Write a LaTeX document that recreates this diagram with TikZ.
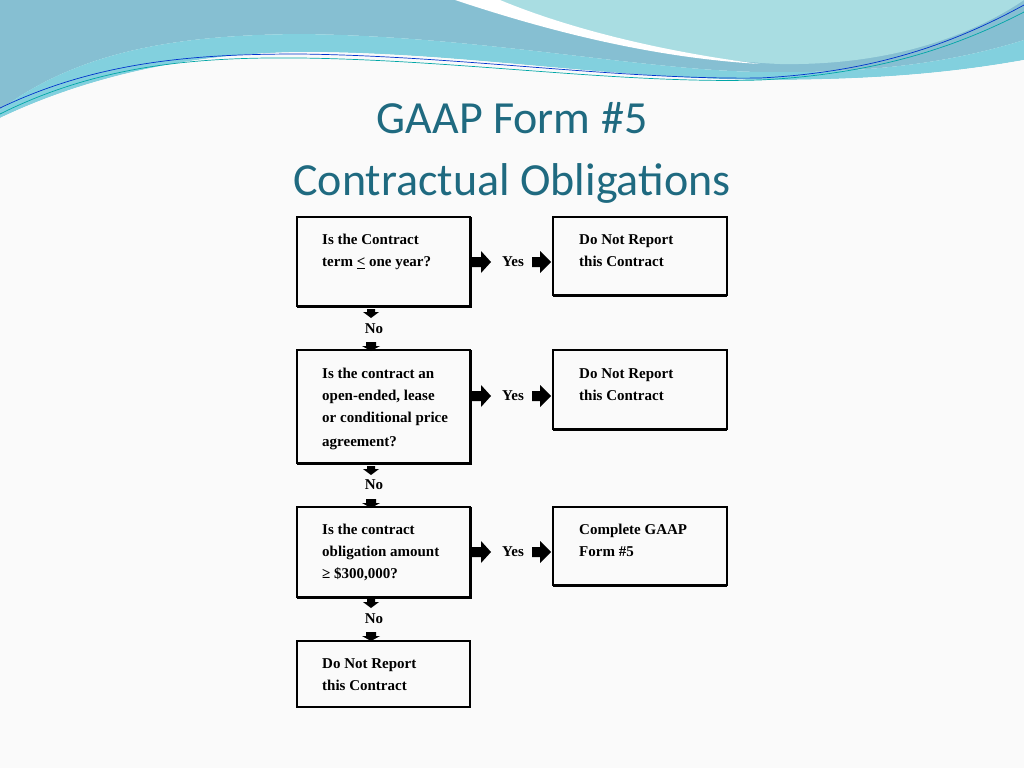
\documentclass[tikz,border=0pt]{standalone}
\usepackage{fontspec}
\setmainfont{Liberation Serif}
\newfontfamily\titlefont{Carlito}
\begin{document}
\begin{tikzpicture}[x=1pt,y=-1pt,
  box/.style={draw=black,line width=2.5pt},
  txt/.style={anchor=north west,font=\bfseries\fontsize{15}{22}\selectfont,align=left,inner sep=0pt},
  lbl/.style={font=\bfseries\fontsize{15}{18}\selectfont,inner sep=0pt},
  rarr/.style={fill=black},
]
\definecolor{wA}{HTML}{86BFD2}
\definecolor{wB}{HTML}{6CC8D8}
\definecolor{wC}{HTML}{A9DDE2}
\definecolor{tcol}{HTML}{1F6A80}
\useasboundingbox (0,0) rectangle (1024,768);
\fill[white!96!gray] (0,0) rectangle (1024,768);
% waves
\fill[wA] (0,0) -- (0,110) .. controls (80,50) and (180,35) .. (300,34) .. controls (480,36) and (640,70) .. (760,72) .. controls (880,74) and (960,60) .. (1024,40) -- (1024,0) -- cycle;
\fill[wC] (470,0) .. controls (560,30) and (680,60) .. (780,64) .. controls (900,66) and (980,30) .. (1024,0) -- cycle;
\fill[white] (455,0) .. controls (560,35) and (660,58) .. (760,64) .. controls (650,50) and (560,25) .. (500,0) -- cycle;
\fill[wB!85] (0,110) .. controls (80,50) and (180,35) .. (300,34) .. controls (480,36) and (640,70) .. (760,72) .. controls (880,74) and (960,60) .. (1024,40) -- (1024,60) .. controls (940,75) and (860,80) .. (760,80) .. controls (600,78) and (460,52) .. (300,52) .. controls (180,54) and (80,80) .. (0,118) -- cycle;
\fill[white!96!gray] (0,118) .. controls (80,80) and (180,54) .. (300,52) .. controls (460,52) and (600,78) .. (760,80) .. controls (860,80) and (940,75) .. (1024,60) -- (1024,80) -- (0,130) -- cycle;
\draw[blue!60!teal,line width=0.7pt] (0,108) .. controls (100,60) and (200,54) .. (300,54) .. controls (460,56) and (620,80) .. (760,78) .. controls (880,72) and (960,40) .. (1024,5);
\draw[teal!70!cyan,line width=0.7pt] (0,114) .. controls (100,64) and (200,57) .. (300,58) .. controls (460,60) and (620,84) .. (760,80) .. controls (880,74) and (960,45) .. (1024,12);
% title
\node[font=\titlefont\fontsize{46}{62}\selectfont,text=tcol,align=center] (title) at (512,153) {GAAP Form \#5\\Contractual Obligations};
% boxes
\draw[box] (297,217) rectangle (470,306); \draw[line width=1.5pt] (297,307)--(471,307)--(471,217);
\draw[box] (553,217) rectangle (727,295); \draw[line width=1.5pt] (553,296)--(727,296);
\draw[box] (297,350) rectangle (470,463); \draw[line width=1.5pt] (297,464)--(471,464)--(471,350);
\draw[box] (553,350) rectangle (727,429); \draw[line width=1.5pt] (553,430)--(727,430);
\draw[box] (297,507) rectangle (470,597); \draw[line width=1.5pt] (297,598)--(471,598)--(471,507);
\draw[box] (553,507) rectangle (727,585); \draw[line width=1.5pt] (553,586)--(727,586);
\draw[box] (297,641) rectangle (470,707);
\node[txt] (t1) at (322,234) {Is the Contract\\term \underline{<} one year?};
\node[txt] (r1) at (579,234) {Do Not Report\\this Contract};
\node[txt] (t2) at (322,368) {Is the contract an\\open-ended, lease\\or conditional price\\[2pt]agreement?};
\node[txt] (r2) at (579,368) {Do Not Report\\this Contract};
\node[txt] (t3) at (322,524) {Is the contract\\obligation amount\\≥ \$300,000?};
\node[txt] (r3) at (579,524) {Complete GAAP\\Form \#5};
\node[txt] (t4) at (322,658) {Do Not Report\\this Contract};
% yes arrows
\foreach \y/\n in {262/1,396/2,552/3}{
  \fill[rarr] (472,\y-5) -- (481,\y-5) -- (481,\y-11) -- (491,\y) -- (481,\y+11) -- (481,\y+5) -- (472,\y+5) -- cycle;
  \node[lbl] (yes\n) at (513,\y) {Yes};
  \fill[rarr] (532,\y-5) -- (540,\y-5) -- (540,\y-11) -- (551,\y) -- (540,\y+11) -- (540,\y+5) -- (532,\y+5) -- cycle;
}
% no arrows
\foreach \ya/\yl/\yb/\n in {309/329/342/1,466/485/499/2,599/619/632/3}{
  \fill[rarr] (367,\ya) -- (375,\ya) -- (375,\ya+3) -- (379,\ya+3) -- (371,\ya+9) -- (363,\ya+3) -- (367,\ya+3) -- cycle;
  \node[lbl] (no\n) at (374,\yl) {No};
  \fill[rarr] (366,\yb) -- (376,\yb) -- (376,\yb+4) -- (380,\yb+4) -- (371,\yb+9) -- (362,\yb+4) -- (366,\yb+4) -- cycle;
}
\end{tikzpicture}
\end{document}
